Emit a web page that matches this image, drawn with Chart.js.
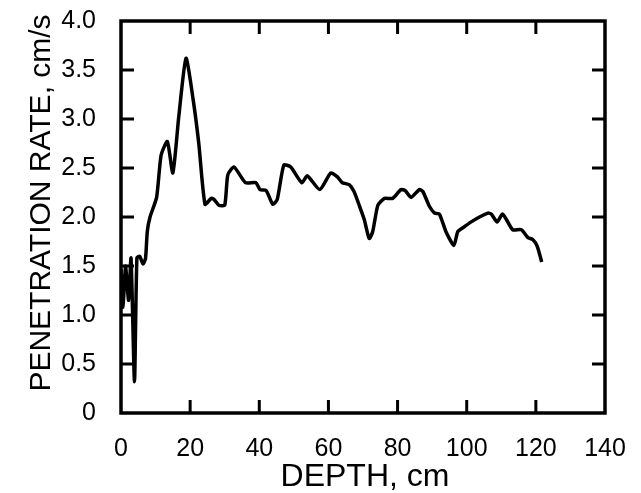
<!DOCTYPE html>
<html>
<head>
<meta charset="utf-8">
<script src="https://cdn.jsdelivr.net/npm/chart.js@4"></script>
<style>
  html, body { margin: 0; padding: 0; background: #fff; }
  #wrap { width: 641px; height: 493px; }
</style>
</head>
<body>
<div id="wrap"><canvas id="chart"></canvas></div>
<script>
'use strict';

/* ── Data ───────────────────────────────────────────────── */
const depth = [0, 0.6, 1.3, 2.2, 2.9, 3.9, 4.6, 5.4, 6.4, 7.1, 7.6, 8.4, 10.3, 11.6, 13.4, 15.0, 16.7, 18.8,
  20.9, 22.5, 24.3, 26.1, 26.9, 28.3, 30.0, 30.9, 32.7, 36.0, 39.0, 40.2, 42.0, 43.9, 45.2, 47.1, 49.1,
  52.3, 53.9, 57.5, 60.7, 62.6, 64.0, 66.0, 67.4, 69.0, 70.4, 71.8, 72.8, 74.3, 76.2, 78.6, 81.0, 82.2,
  83.9, 86.3, 87.3, 89.2, 90.7, 92.1, 94.0, 96.3, 97.4, 98.9, 101.3, 103.7, 106.1, 107.1, 108.8, 110.3,
  111.4, 113.3, 115.8, 117.7, 119.1, 120.4, 121.7];
const rate = [1.47, 1.08, 1.5, 1.15, 1.58, 0.32, 1.58, 1.6, 1.52, 1.58, 1.85, 2.0, 2.2, 2.63, 2.77, 2.45, 3.02, 3.62,
  3.19, 2.75, 2.13, 2.19, 2.18, 2.12, 2.12, 2.43, 2.51, 2.35, 2.35, 2.28, 2.27, 2.13, 2.18, 2.53, 2.51,
  2.35, 2.42, 2.28, 2.45, 2.41, 2.35, 2.33, 2.26, 2.11, 1.97, 1.78, 1.85, 2.12, 2.19, 2.19, 2.28, 2.27,
  2.2, 2.28, 2.26, 2.11, 2.04, 2.03, 1.85, 1.71, 1.85, 1.89, 1.95, 2.0, 2.04, 2.03, 1.95, 2.03,
  1.98, 1.87, 1.87, 1.79, 1.77, 1.70, 1.54];

const xTicks = [0, 20, 40, 60, 80, 100, 120, 140];
const yTickLabels = ['0', '0.5', '1.0', '1.5', '2.0', '2.5', '3.0', '3.5', '4.0'];
const xTitle = 'DEPTH, cm';
const yTitle = 'PENETRATION RATE, cm/s';

const FONT = 'Liberation Sans, Arial, Helvetica, sans-serif';

// keep label overflow from pushing the plot box around
const noOverflow = s => { s.paddingTop = s.paddingBottom = s.paddingLeft = s.paddingRight = 0; };

/* ── Frame with inward ticks on all four sides ─────────── */
const framePlugin = {
  id: 'frame',
  afterDraw(chart) {
    const { ctx, chartArea: a, scales: { x, y } } = chart;
    const tl = 13;
    ctx.save();
    ctx.strokeStyle = '#000';
    ctx.lineWidth = 3.5;
    ctx.lineCap = 'square';
    ctx.strokeRect(a.left, a.top, a.right - a.left, a.bottom - a.top);
    ctx.lineWidth = 3;
    ctx.lineCap = 'butt';
    x.ticks.forEach(t => {
      const px = x.getPixelForValue(t.value);
      if (px <= a.left + 1 || px >= a.right - 1) return;
      ctx.beginPath();
      ctx.moveTo(px, a.bottom); ctx.lineTo(px, a.bottom - tl);
      ctx.moveTo(px, a.top); ctx.lineTo(px, a.top + tl);
      ctx.stroke();
    });
    y.ticks.forEach(t => {
      const py = y.getPixelForValue(t.value);
      if (py <= a.top + 1 || py >= a.bottom - 1) return;
      ctx.beginPath();
      ctx.moveTo(a.left, py); ctx.lineTo(a.left + tl, py);
      ctx.moveTo(a.right, py); ctx.lineTo(a.right - tl, py);
      ctx.stroke();
    });

    // axis titles
    ctx.fillStyle = '#000';
    ctx.textAlign = 'center';
    ctx.textBaseline = 'middle';
    ctx.font = `32px ${FONT}`;
    ctx.fillText(xTitle, 365, a.bottom + 64);
    ctx.translate(42, (a.top + a.bottom) / 2 - 14);
    ctx.rotate(-Math.PI / 2);
    ctx.font = `30px ${FONT}`;
    ctx.fillText(yTitle, 0, 0);
    ctx.restore();
  }
};

new Chart(document.getElementById('chart'), {
  type: 'line',
  data: {
    datasets: [{
      data: depth.map((d, i) => ({ x: d, y: rate[i] })),
      borderColor: '#000',
      borderWidth: 3.5,
      pointRadius: 0,
      tension: 0.2,
      fill: false
    }]
  },
  options: {
    responsive: true,
    maintainAspectRatio: false,
    animation: false,
    layout: { padding: { top: 21, right: 36, left: 0, bottom: 0 } },
    plugins: { legend: { display: false }, tooltip: { enabled: false } },
    scales: {
      x: {
        type: 'linear',
        min: 0,
        max: 140,
        afterBuildTicks: s => { s.ticks = xTicks.map(v => ({ value: v })); },
        afterFit: s => { s.height = 80; noOverflow(s); },
        grid: { display: false, drawTicks: false },
        border: { display: false },
        ticks: { color: '#000', padding: 21, maxRotation: 0, font: { family: FONT, size: 25 } }
      },
      y: {
        min: 0,
        max: 4,
        afterBuildTicks: s => { s.ticks = yTickLabels.map((l, i) => ({ value: i * 0.5 })); },
        afterFit: s => { s.width = 121; noOverflow(s); },
        grid: { display: false, drawTicks: false },
        border: { display: false },
        ticks: {
          color: '#000',
          padding: 25,
          font: { family: FONT, size: 25 },
          callback: (v, i) => yTickLabels[i]
        }
      }
    }
  },
  plugins: [framePlugin]
});
</script>
</body>
</html>
